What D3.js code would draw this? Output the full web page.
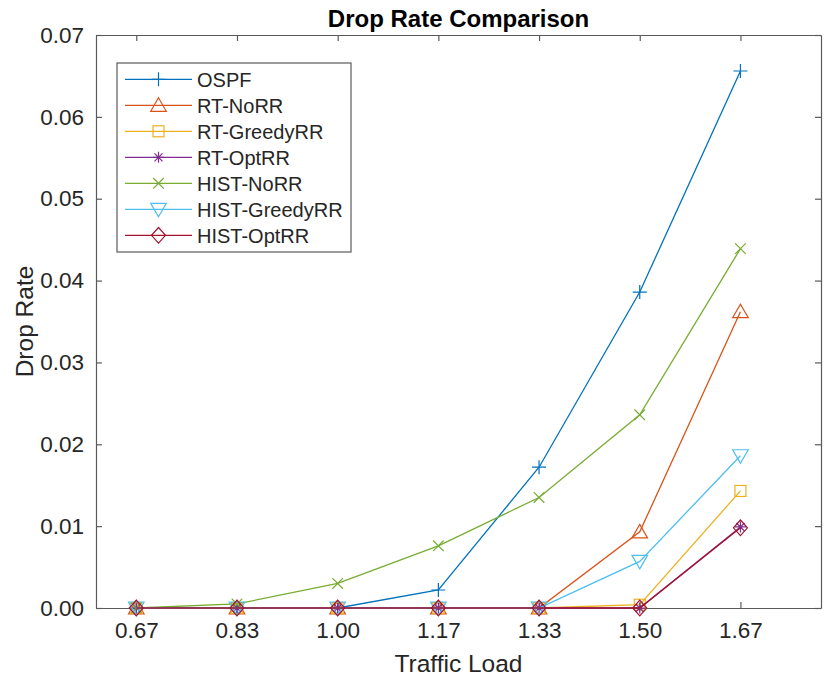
<!DOCTYPE html>
<html>
<head>
<meta charset="utf-8">
<script src="https://cdn.jsdelivr.net/npm/d3@7"></script>
<style>
	body { margin: 0; background: #fff; }
	svg text { font-family: "Liberation Sans", Arial, sans-serif; fill: #262626; }
</style>
</head>
<body>
<div class="chart"></div>
<script>
// traffic load values (x) and drop rates per scheme
const loads = [4/6, 5/6, 1, 7/6, 8/6, 9/6, 10/6];
const yTicks = [0, 0.01, 0.02, 0.03, 0.04, 0.05, 0.06, 0.07];
const seriesNames = ["OSPF", "RT-NoRR", "RT-GreedyRR", "RT-OptRR", "HIST-NoRR", "HIST-GreedyRR", "HIST-OptRR"];
const ospf = [0, 0, 0, 0.0022, 0.0172, 0.0386, 0.0656];
const rtNoRR = [0, 0, 0, 0, 0, 0.0093, 0.0362];
const rtGreedyRR = [0, 0, 0, 0, 0, 0.0004, 0.0143];
const rtOptRR = [0, 0, 0, 0, 0, 0, 0.0099];
const histNoRR = [0, 0.0005, 0.0030, 0.0076, 0.0135, 0.0236, 0.0439];
const histGreedyRR = [0, 0, 0, 0, 0, 0.0057, 0.0186];
const histOptRR = [0, 0, 0, 0, 0, 0, 0.0098];

const seriesValues = [ospf, rtNoRR, rtGreedyRR, rtOptRR, histNoRR, histGreedyRR, histOptRR];
const colors = ["#0072BD", "#D95319", "#EDB120", "#7E2F8E", "#77AC30", "#4DBEEE", "#A2142F"];
const markers = ["plus", "triUp", "square", "star", "cross", "triDown", "diamond"];

const width = 825, height = 681;
const margin = {top: 35, right: 4, bottom: 73, left: 96};
const axisColor = "#5a5a5a";

const svg = d3.select("div.chart")
	.append("svg")
	.attr("width", width)
	.attr("height", height);

const x = d3.scaleLinear().domain([0.6, 1.8]).range([margin.left, width - margin.right]);
const y = d3.scaleLinear().domain([0, 0.07]).range([height - margin.bottom, margin.top]);

const fmt = d3.format(".2f");
const tickLen = 6;

// axes (box on, ticks inward)
svg.append("g")
	.attr("transform", "translate(0," + y(0) + ")")
	.call(d3.axisBottom(x).tickValues(loads).tickFormat(fmt).tickSizeInner(-tickLen).tickSizeOuter(0).tickPadding(14))
	.call(styleAxis);

svg.append("g")
	.attr("transform", "translate(0," + y(0.07) + ")")
	.call(d3.axisTop(x).tickValues(loads).tickFormat("").tickSizeInner(-tickLen).tickSizeOuter(0))
	.call(styleAxis);

svg.append("g")
	.attr("transform", "translate(" + x(0.6) + ",0)")
	.call(d3.axisLeft(y).tickValues(yTicks).tickFormat(fmt).tickSizeInner(-tickLen).tickSizeOuter(0).tickPadding(12))
	.call(styleAxis);

svg.append("g")
	.attr("transform", "translate(" + x(1.8) + ",0)")
	.call(d3.axisRight(y).tickValues(yTicks).tickFormat("").tickSizeInner(-tickLen).tickSizeOuter(0))
	.call(styleAxis);

function styleAxis(g) {
	g.select(".domain").attr("stroke", axisColor).attr("stroke-width", 1.2);
	g.selectAll(".tick line").attr("stroke", axisColor).attr("stroke-width", 1.2);
	g.selectAll(".tick text")
		.style("font-family", "'Liberation Sans', Arial, sans-serif")
		.style("font-size", "22.5px")
		.attr("fill", "#262626");
}

// labels
svg.append("text")
	.attr("x", (x(0.6) + x(1.8)) / 2)
	.attr("y", 27)
	.attr("text-anchor", "middle")
	.style("font-size", "24px")
	.style("font-weight", "bold")
	.style("fill", "#000")
	.text("Drop Rate Comparison");

svg.append("text")
	.attr("x", (x(0.6) + x(1.8)) / 2)
	.attr("y", 672)
	.attr("text-anchor", "middle")
	.style("font-size", "24.5px")
	.text("Traffic Load");

svg.append("text")
	.attr("transform", "translate(33," + (y(0) + y(0.07)) / 2 + ") rotate(-90)")
	.attr("text-anchor", "middle")
	.style("font-size", "24.5px")
	.text("Drop Rate");

// marker shapes
function drawMarker(g, type, color) {
	const s = g.append("g").attr("fill", "none").attr("stroke", color).attr("stroke-width", 1.2);
	if (type === "plus") {
		s.append("path").attr("d", "M-7,0H7M0,-7V7");
	} else if (type === "triUp") {
		s.append("path").attr("d", "M0,-7.5L7.8,6L-7.8,6Z");
	} else if (type === "square") {
		s.append("rect").attr("x", -5.5).attr("y", -5.5).attr("width", 11).attr("height", 11);
	} else if (type === "star") {
		s.append("path").attr("d", "M-5.5,0H5.5M0,-5.5V5.5M-4,-4L4,4M-4,4L4,-4");
	} else if (type === "cross") {
		s.append("path").attr("d", "M-5.3,-5.3L5.3,5.3M-5.3,5.3L5.3,-5.3");
	} else if (type === "triDown") {
		s.append("path").attr("d", "M0,7.5L7.8,-6L-7.8,-6Z");
	} else if (type === "diamond") {
		s.append("path").attr("d", "M0,-7.8L7,0L0,7.8L-7,0Z");
	}
}

const line = d3.line()
	.x((d, i) => x(loads[i]))
	.y(d => y(d));

const plot = svg.append("g");

seriesValues.forEach((vals, k) => {
	const g = plot.append("g");
	g.append("path")
		.attr("d", line(vals))
		.attr("fill", "none")
		.attr("stroke", colors[k])
		.attr("stroke-width", 1.3);
	vals.forEach((v, i) => {
		const m = g.append("g").attr("transform", "translate(" + x(loads[i]) + "," + y(v) + ")");
		drawMarker(m, markers[k], colors[k]);
	});
});

// legend
const legend = svg.append("g").attr("transform", "translate(117,63)");
legend.append("rect")
	.attr("width", 234)
	.attr("height", 189)
	.attr("fill", "#fff")
	.attr("stroke", axisColor)
	.attr("stroke-width", 1.2);

seriesNames.forEach((name, k) => {
	const row = legend.append("g").attr("transform", "translate(0," + (16.3 + k * 26) + ")");
	row.append("line")
		.attr("x1", 8).attr("x2", 75)
		.attr("stroke", colors[k])
		.attr("stroke-width", 1.3);
	const m = row.append("g").attr("transform", "translate(41.5,0)");
	drawMarker(m, markers[k], colors[k]);
	row.append("text")
		.attr("x", 80)
		.attr("y", 7.5)
		.style("font-size", "20px")
		.text(name);
});
</script>
</body>
</html>
